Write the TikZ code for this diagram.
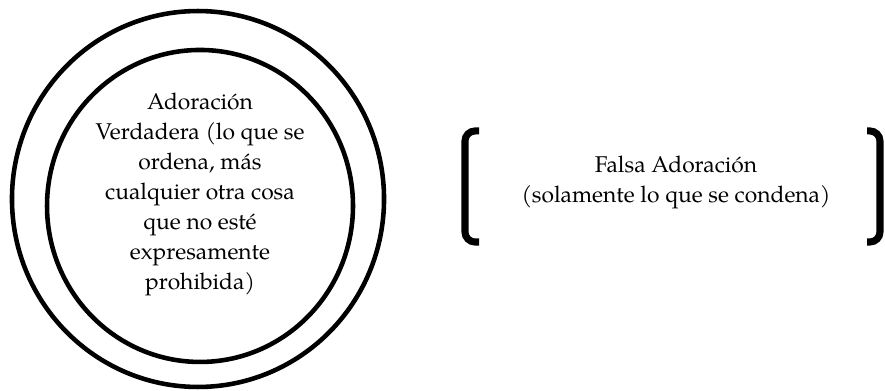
\documentclass[tikz,border=0pt]{standalone}
\usepackage{fontspec}
\setmainfont{TeX Gyre Pagella}
\begin{document}
\begin{tikzpicture}[ringline/.style={black, line width=2.2pt},
                    bracketline/.style={black, line width=3.4pt, rounded corners=0.17cm},
                    texto/.style={align=center, inner sep=0pt, font=\fontsize{11}{14.5}\selectfont}]
                        \useasboundingbox (0,0) rectangle (15,6.627);
                        \draw[ringline] (3.356,3.254) ellipse (3.153 and 3.186);
                        \draw[ringline] (3.390,3.136) ellipse (2.593 and 2.644);
                        \node[texto] (verdadera) at (3.39,3.33) {Adoración\\Verdadera (lo que se\\ordena, más\\cualquier otra cosa\\que no esté\\expresamente\\prohibida)};
                        \draw[bracketline] (8.119,4.407) -- (7.881,4.407) -- (7.881,2.525) -- (8.119,2.525);
                        \draw[bracketline] (14.695,4.407) -- (14.915,4.407) -- (14.915,2.525) -- (14.695,2.525);
                        \node[texto] (falsa) at (11.458,3.53) {Falsa Adoración\\(solamente lo que se condena)};
                    \end{tikzpicture}
\end{document}
